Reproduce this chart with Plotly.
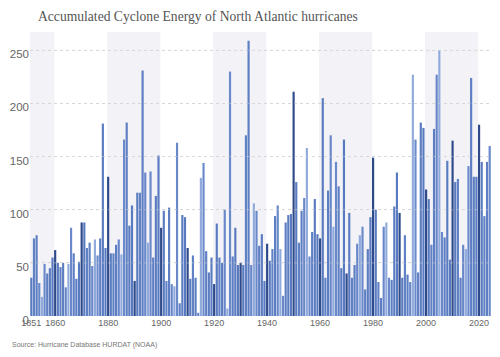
import plotly.graph_objects as go

years = list(range(1851, 2025))
ace = [
    36, 73, 76, 31, 18, 49, 40, 45, 55,               # 1851-1859
    62, 50, 46, 50, 27, 49, 83, 59, 35, 51,           # 1860s
    88, 88, 64, 69, 47, 72, 57, 73, 181, 64,          # 1870s
    131, 59, 59, 67, 72, 58, 166, 182, 85, 104,       # 1880s
    33, 116, 116, 231, 135, 69, 136, 55, 113, 151,    # 1890s
    83, 99, 33, 102, 30, 28, 163, 12, 95, 93,         # 1900s
    64, 35, 57, 36, 3, 130, 144, 61, 41, 55,          # 1910s
    30, 87, 55, 50, 100, 7, 230, 56, 83, 48,          # 1920s
    50, 48, 170, 259, 48, 106, 99, 66, 77, 33,        # 1930s
    68, 52, 63, 94, 104, 63, 19, 88, 95, 96,          # 1940s
    211, 126, 69, 99, 111, 158, 56, 79, 110, 77,      # 1950s
    73, 205, 36, 118, 170, 84, 145, 122, 45, 166,     # 1960s
    40, 97, 36, 48, 68, 76, 84, 25, 63, 93,           # 1970s
    149, 100, 32, 17, 84, 88, 36, 34, 103, 135,       # 1980s
    97, 36, 76, 39, 32, 227, 166, 41, 182, 177,       # 1990s
    119, 110, 67, 176, 227, 250, 79, 74, 146, 53,     # 2000s
    165, 126, 129, 36, 67, 63, 141, 224, 131, 131,    # 2010s
    180, 145, 94, 145, 160,                           # 2020-2024
]
tick_vals = [1851, 1860, 1880, 1900, 1920, 1940, 1960, 1980, 2000, 2020]
tick_text = [str(v) for v in tick_vals]
band_starts = [1850, 1880, 1920, 1960, 2000]
y_ticks = [0, 50, 100, 150, 200, 250]

title_text = "Accumulated Cyclone Energy of North Atlantic hurricanes"
source_text = "Source: Hurricane Database HURDAT (NOAA)"

# style: shade by position within the decade
shade = {0: "#2f4a8a", 1: "#5a7bc0", 2: "#6081c4", 3: "#5d7ec2", 4: "#6887c9",
         5: "#91aadc", 6: "#6a89ca", 7: "#5e7fc3", 8: "#5b7cc1", 9: "#587ac0"}
colors = [shade[y % 10] for y in years]

# page body has an 8px margin: figure is sized so the page does not overflow
W, H = 484, 341
L, T, R = 21.7, 24, 0.5
B = H - 308.3
plot_w, plot_h = W - L - R, H - T - B

fig = go.Figure(go.Bar(x=years, y=ace, marker=dict(color=colors, line=dict(width=0)),
                       hoverinfo="x+y"))

shapes = []
for s in band_starts:
    x0 = 1850.5 if s == 1850 else s - 0.4
    x1 = s + 9.7 if s == 1850 else s + 19.7
    shapes.append(dict(type="rect", xref="x", yref="paper", x0=x0, x1=x1,
                       y0=0, y1=1, fillcolor="#f3f3f7", line=dict(width=0), layer="below"))
for v in y_ticks[1:]:
    shapes.append(dict(type="line", xref="paper", yref="y", x0=0, x1=1, y0=v, y1=v,
                       line=dict(color="#e0e0e0", width=1, dash="dot"), layer="above", opacity=0.45))

fig.update_layout(
    width=W, height=H,
    margin=dict(l=L, r=R, t=T, b=B, pad=0),
    paper_bgcolor="white", plot_bgcolor="white",
    bargap=0.18,
    showlegend=False,
    font=dict(family="Liberation Sans, Arial, sans-serif", color="#666"),
    title=dict(text=title_text, x=30 / W, xanchor="left", xref="container",
               y=1 - 8.5 / H, yanchor="middle", yref="container",
               font=dict(family="Liberation Serif, Times New Roman, serif", size=13.6, color="#555")),
    shapes=shapes,
    annotations=[dict(text=source_text, x=(2 - L) / plot_w, y=(H - B - 337.5) / plot_h,
                      xref="paper", yref="paper",
                      xanchor="left", yanchor="middle", showarrow=False,
                      font=dict(size=7, color="#777"))],
    xaxis=dict(range=[1850.5, 2024.5], tickvals=tick_vals, ticktext=tick_text,
               showgrid=False, zeroline=False, showline=False, ticks="",
               tickfont=dict(size=9, color="#666")),
    yaxis=dict(range=[0, 267.2], tickvals=y_ticks, showgrid=True, gridcolor="#d4d4d4",
               griddash="dot", gridwidth=1, zeroline=False, showline=False, ticks="",
               tickfont=dict(size=11.5, color="#666"), ticklabelshift=4),
)

fig.write_html("out.html")
